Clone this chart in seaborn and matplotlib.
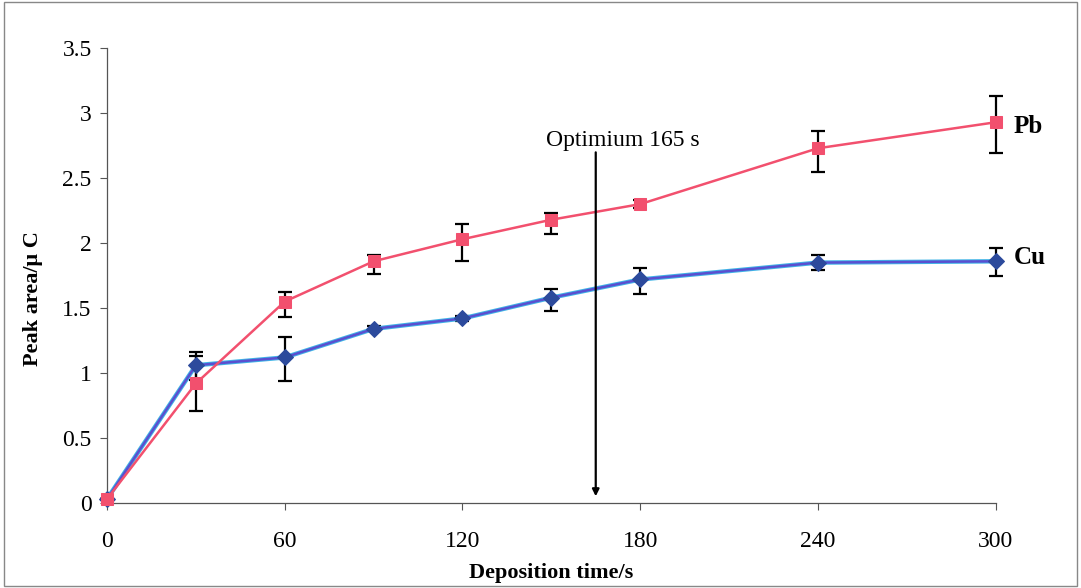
import matplotlib
matplotlib.use("Agg")
import matplotlib.pyplot as plt
import seaborn as sns
import pandas as pd
from matplotlib.patches import Rectangle

# ---- data ----
time_s = [0, 30, 60, 90, 120, 150, 180, 240, 300]
pb_area = [0.03, 0.92, 1.55, 1.86, 2.03, 2.18, 2.30, 2.73, 2.93]
pb_err_low = [0.0, 0.21, 0.12, 0.10, 0.17, 0.11, 0.03, 0.18, 0.24]
pb_err_high = [0.0, 0.21, 0.07, 0.05, 0.12, 0.05, 0.03, 0.13, 0.20]
cu_area = [0.03, 1.06, 1.12, 1.34, 1.42, 1.58, 1.72, 1.85, 1.86]
cu_err_low = [0.0, 0.11, 0.18, 0.02, 0.02, 0.10, 0.11, 0.06, 0.11]
cu_err_high = [0.0, 0.10, 0.16, 0.02, 0.02, 0.07, 0.09, 0.06, 0.10]
x_ticks = [0, 60, 120, 180, 240, 300]
y_ticks = [0, 0.5, 1, 1.5, 2, 2.5, 3, 3.5]
y_ticklabels = ["0", "0.5", "1", "1.5", "2", "2.5", "3", "3.5"]
optimum_time = 165

df = pd.DataFrame({"time": time_s, "Pb": pb_area, "Cu": cu_area})

sns.set_style("white")
plt.rcParams['font.family'] = ['Liberation Serif', 'DejaVu Serif']
plt.rcParams['text.color'] = 'black'
plt.rcParams['axes.labelcolor'] = 'black'
plt.rcParams['xtick.color'] = 'black'
plt.rcParams['ytick.color'] = 'black'

fig = plt.figure(figsize=(10.81, 5.88), dpi=100)
ax = fig.add_axes([0.099, 0.1446, 0.822, 0.7734])

pb_color = "#f2506e"
cu_color = "#5a4fd0"

# error bars
ax.errorbar(time_s, pb_area, yerr=[pb_err_low, pb_err_high], fmt='none',
            ecolor='black', elinewidth=1.6, capsize=5, capthick=1.6, zorder=2, clip_on=False)
ax.errorbar(time_s, cu_area, yerr=[cu_err_low, cu_err_high], fmt='none',
            ecolor='black', elinewidth=1.6, capsize=5, capthick=1.6, zorder=2, clip_on=False)

# Cu lines (layered look)
sns.lineplot(data=df, x="time", y="Cu", ax=ax, color="#3fb4e6", linewidth=3.2, zorder=3)
sns.lineplot(data=df, x="time", y="Cu", ax=ax, color=cu_color, linewidth=1.8,
             marker='D', markersize=8, markerfacecolor="#2c4a9c", markeredgecolor="#2c4a9c", zorder=4)
# Pb line
sns.lineplot(data=df, x="time", y="Pb", ax=ax, color=pb_color, linewidth=1.8,
             marker='s', markersize=8, markerfacecolor=pb_color, markeredgecolor=pb_color, zorder=5)
for ln in ax.lines:
    ln.set_clip_on(False)

ax.set_xlim(0, 300)
ax.set_ylim(0, 3.5)
ax.set_xticks(x_ticks)
ax.set_xticklabels([str(t) for t in x_ticks], fontsize=17)
ax.set_yticks(y_ticks)
ax.set_yticklabels(y_ticklabels, fontsize=17)
ax.tick_params(axis='both', direction='out', length=5, width=0.8, color='#555555',
               labelcolor='black', bottom=True, left=True)
ax.tick_params(axis='x', pad=15)
ax.tick_params(axis='y', pad=6)

ax.set_xlabel("Deposition time/s", fontsize=16, fontweight='bold', labelpad=8, color='black')
ax.set_ylabel("Peak area/\u03bc C", fontsize=16, fontweight='bold', color='black')
ax.yaxis.set_label_coords(-0.072, 0.45)

for side in ["top", "right"]:
    ax.spines[side].set_visible(False)
for side in ["left", "bottom"]:
    ax.spines[side].set_color("#555555")
    ax.spines[side].set_linewidth(0.9)

# optimum arrow
ax.annotate("", xy=(optimum_time, 0.03), xytext=(optimum_time, 2.72),
            arrowprops=dict(arrowstyle='-|>', color='black', lw=1.6, mutation_scale=10), zorder=6)
ax.text(174, 2.79, "Optimium 165 s", fontsize=17, ha='center', va='center', color='black')

# series labels
ax.text(306, 2.93 - 0.03, "Pb", fontsize=18, fontweight='bold', ha='left', va='center',
        clip_on=False, color='black')
ax.text(306, 1.86 + 0.03, "Cu", fontsize=18, fontweight='bold', ha='left', va='center',
        clip_on=False, color='black')

# figure border
fig.patches.append(Rectangle((0.004, 0.004), 0.992, 0.992, transform=fig.transFigure,
                             fill=False, edgecolor='#888888', linewidth=1.0))

fig.savefig("out.png", dpi=100)
